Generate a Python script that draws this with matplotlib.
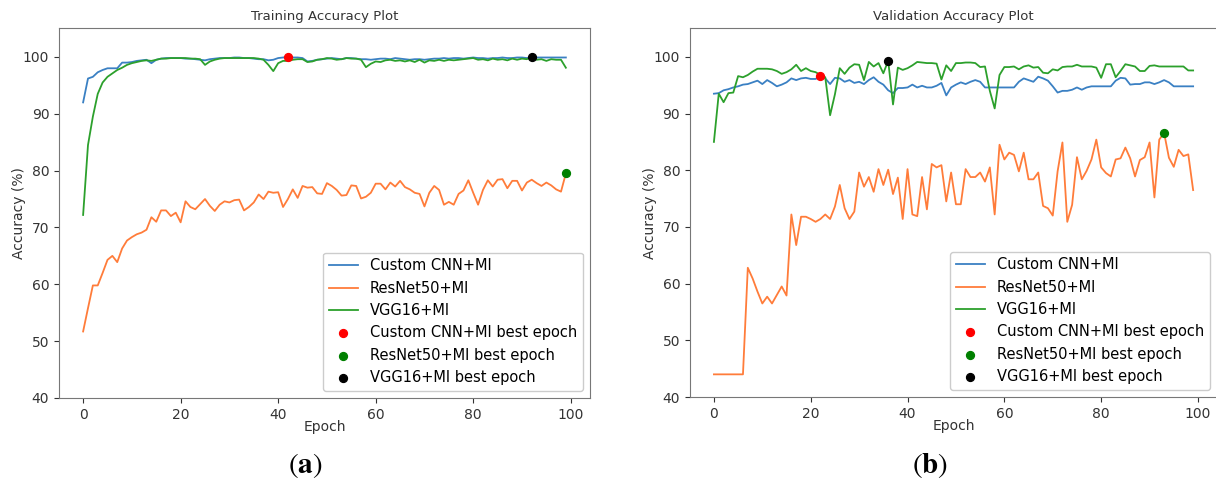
import numpy as np
import matplotlib
matplotlib.use("Agg")
import matplotlib.pyplot as plt

plt.rcParams["mathtext.fontset"] = "stix"

epochs = np.arange(100)

# training accuracy (%)
train_cnn = [
    92.0, 96.2, 96.5, 97.3, 97.7, 98.0, 98.0, 98.0, 99.0, 99.0,
    99.1, 99.3, 99.4, 99.5, 98.9, 99.5, 99.7, 99.8, 99.8, 99.8,
    99.8, 99.7, 99.7, 99.6, 99.5, 99.4, 99.6, 99.7, 99.8, 99.8,
    99.8, 99.9, 99.9, 99.8, 99.8, 99.7, 99.6, 99.6, 99.4, 99.5,
    99.8, 99.9, 100.0, 99.9, 99.9, 99.8, 99.2, 99.3, 99.5, 99.6,
    99.7, 99.8, 99.7, 99.6, 99.8, 99.8, 99.7, 99.6, 99.6, 99.5,
    99.6, 99.7, 99.7, 99.6, 99.8, 99.7, 99.6, 99.5, 99.6, 99.6,
    99.5, 99.6, 99.7, 99.7, 99.8, 99.7, 99.8, 99.8, 99.7, 99.8,
    99.9, 99.8, 99.8, 99.7, 99.8, 99.8, 99.9, 99.8, 99.8, 99.9,
    99.9, 99.8, 99.9, 99.9, 99.9, 99.9, 99.9, 99.9, 99.9, 99.9,
]
train_resnet = [
    51.7, 55.8, 59.8, 59.8, 62.0, 64.3, 65.0, 63.9, 66.3, 67.7,
    68.3, 68.8, 69.1, 69.6, 71.8, 71.0, 73.0, 73.0, 72.0, 72.6,
    70.9, 74.6, 73.6, 73.2, 74.1, 75.0, 73.8, 72.9, 74.0, 74.6,
    74.4, 74.8, 74.9, 73.0, 73.6, 74.4, 75.8, 75.0, 76.3, 76.1,
    76.2, 73.6, 75.0, 76.7, 75.2, 77.3, 77.0, 77.1, 76.0, 75.9,
    77.8, 77.3, 76.6, 75.6, 75.7, 77.4, 77.3, 75.1, 75.4, 76.1,
    77.7, 77.7, 76.7, 77.9, 77.2, 78.2, 77.1, 76.7, 76.1, 75.9,
    73.7, 76.1, 77.3, 76.6, 74.0, 74.5, 74.0, 75.9, 76.5, 78.3,
    76.1, 74.0, 76.6, 78.3, 77.2, 78.4, 78.5, 76.9, 78.2, 78.2,
    76.5, 77.9, 78.4, 77.8, 77.3, 77.9, 77.4, 76.7, 76.3, 79.5,
]
train_vgg = [
    72.2, 84.5, 89.5, 93.5, 95.5, 96.5, 97.1, 97.7, 98.1, 98.6,
    98.9, 99.1, 99.3, 99.4, 99.3, 99.5, 99.7, 99.7, 99.8, 99.8,
    99.8, 99.8, 99.7, 99.7, 99.6, 98.6, 99.2, 99.5, 99.7, 99.8,
    99.8, 99.8, 99.8, 99.8, 99.8, 99.8, 99.7, 99.5, 98.6, 97.5,
    98.9, 99.3, 99.3, 99.5, 99.6, 99.6, 99.1, 99.2, 99.5, 99.6,
    99.8, 99.7, 99.5, 99.6, 99.8, 99.7, 99.7, 99.5, 98.2, 98.8,
    99.2, 99.1, 99.4, 99.5, 99.3, 99.4, 99.2, 99.4, 99.1, 99.5,
    99.0, 99.4, 99.3, 99.5, 99.3, 99.5, 99.4, 99.5, 99.6, 99.7,
    99.8, 99.5, 99.6, 99.4, 99.7, 99.5, 99.6, 99.4, 99.7, 99.5,
    99.7, 99.6, 100.0, 99.5, 99.6, 99.3, 99.6, 99.5, 99.5, 98.1,
]

# validation accuracy (%)
val_cnn = [
    93.5, 93.6, 94.1, 94.3, 94.6, 94.8, 95.1, 95.2, 95.5, 95.8,
    95.2, 95.9, 95.4, 94.8, 95.1, 95.5, 96.2, 95.9, 96.2, 96.3,
    96.1, 96.1, 96.6, 96.2, 95.2, 96.3, 96.2, 95.6, 95.9, 95.4,
    95.6, 95.2, 95.9, 96.4, 95.6, 95.1, 94.1, 93.6, 94.5, 94.5,
    94.6, 95.1, 94.6, 94.9, 94.6, 94.6, 94.9, 95.4, 93.2, 94.6,
    95.1, 95.5, 95.2, 95.6, 95.9, 95.6, 94.6, 94.6, 94.6, 94.6,
    94.6, 94.6, 94.6, 95.6, 96.2, 95.9, 95.6, 96.5, 96.2, 95.8,
    94.8, 93.7, 94.0, 94.0, 94.2, 94.6, 94.2, 94.6, 94.8, 94.8,
    94.8, 94.8, 94.8, 95.8, 96.3, 96.2, 95.1, 95.2, 95.2, 95.5,
    95.5, 95.2, 95.5, 95.9, 95.5, 94.8, 94.8, 94.8, 94.8, 94.8,
]
val_resnet = [
    44.0, 44.0, 44.0, 44.0, 44.0, 44.0, 44.0, 62.8, 60.9, 58.6,
    56.5, 57.7, 56.5, 58.0, 59.5, 57.9, 72.2, 66.8, 71.8, 71.8,
    71.4, 70.9, 71.4, 72.2, 71.4, 73.6, 77.4, 73.3, 71.4, 72.7,
    79.6, 77.1, 78.8, 76.2, 80.2, 77.4, 80.1, 75.8, 78.7, 71.4,
    80.2, 72.2, 71.9, 78.8, 73.1, 81.1, 80.5, 80.9, 74.5, 79.6,
    74.0, 74.0, 80.2, 78.8, 78.8, 79.6, 78.0, 80.5, 72.2, 84.5,
    81.9, 83.1, 82.7, 79.8, 83.1, 78.4, 78.4, 79.6, 73.7, 73.3,
    72.0, 79.8, 84.9, 70.9, 73.9, 82.3, 78.4, 79.9, 81.9, 85.4,
    80.5, 79.5, 78.9, 81.9, 82.1, 84.0, 82.1, 78.9, 81.8, 82.3,
    84.9, 75.2, 85.4, 86.6, 82.2, 80.6, 83.6, 82.5, 82.8, 76.5,
]
val_vgg = [
    85.0, 93.5, 92.0, 93.6, 93.7, 96.6, 96.4, 96.8, 97.4, 97.9,
    97.9, 97.9, 97.8, 97.5, 97.0, 97.3, 97.8, 98.6, 97.5, 98.0,
    97.5, 97.3, 96.8, 96.4, 89.7, 93.4, 98.0, 97.0, 98.1, 98.7,
    98.6, 95.9, 99.1, 98.3, 98.9, 97.1, 99.3, 91.6, 98.1, 97.7,
    98.0, 98.5, 99.1, 99.0, 98.9, 98.9, 98.8, 96.0, 98.5, 97.5,
    98.9, 98.9, 99.0, 99.0, 98.9, 98.2, 98.3, 94.0, 90.9, 96.8,
    98.2, 98.2, 98.3, 97.8, 98.3, 98.5, 98.1, 98.2, 97.2, 97.1,
    97.8, 97.6, 98.2, 98.3, 98.3, 98.6, 98.3, 98.3, 98.3, 98.1,
    96.3, 98.7, 98.7, 96.4, 97.5, 98.7, 98.5, 98.3, 97.5, 97.5,
    98.4, 98.5, 98.3, 98.3, 98.3, 98.3, 98.3, 98.3, 97.6, 97.6,
]

names = ["Custom CNN+MI", "ResNet50+MI", "VGG16+MI"]
line_colors = ["#3a80c3", "#ff7c3a", "#2ca02c"]
dot_colors = ["red", "green", "black"]

fig = plt.figure(figsize=(12.16, 4.83), dpi=100)
ax_a = fig.add_axes([0.0485, 0.176, 0.4367, 0.765])
ax_b = fig.add_axes([0.5674, 0.178, 0.4335, 0.763])

panels = [
    (ax_a, "Training Accuracy Plot", [train_cnn, train_resnet, train_vgg]),
    (ax_b, "Validation Accuracy Plot", [val_cnn, val_resnet, val_vgg]),
]

for ax, title, series in panels:
    for name, ys, c in zip(names, series, line_colors):
        ax.plot(epochs, ys, color=c, linewidth=1.3, label=name)
    for name, ys, c in zip(names, series, dot_colors):
        best = int(np.argmax(ys))
        ax.scatter(epochs[best], ys[best], color=c, s=32, zorder=4,
                   label=f"{name} best epoch")
    ax.set_ylim(40, 105)
    ax.set_yticks([40, 50, 60, 70, 80, 90, 100])
    ax.set_xticks([0, 20, 40, 60, 80, 100])
    ax.set_title(title, fontsize=9.5, color="#333333")
    ax.set_xlabel("Epoch", fontsize=10, color="#333333", labelpad=-1.5)
    ax.set_ylabel("Accuracy (%)", fontsize=10, color="#333333", labelpad=-2.5)
    ax.tick_params(labelsize=10, colors="#333333")
    for sp in ax.spines.values():
        sp.set_color("#777777")
    ax.legend(loc="lower right", fontsize=10.5, framealpha=1.0)

fig.text(0.251, 0.037, r"$(\mathbf{a})$", fontsize=21, ha="center", va="center")
fig.text(0.765, 0.037, r"$(\mathbf{b})$", fontsize=21, ha="center", va="center")

fig.savefig("out.png", dpi=100)
